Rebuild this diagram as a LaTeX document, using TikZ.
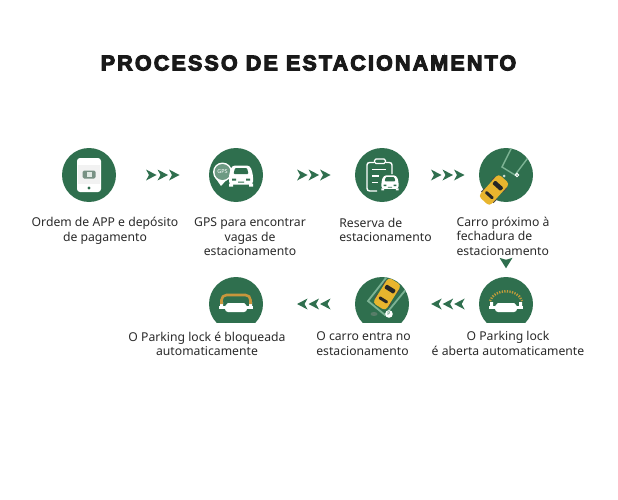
\documentclass[tikz,border=0pt]{standalone}
\usepackage{fontspec}
\setmainfont{Noto Sans}
\newfontfamily\titlefont[FakeBold=5,LetterSpace=10]{Liberation Sans Bold}
\definecolor{verde}{HTML}{2F6F4E}
\definecolor{verdec}{HTML}{7DB394}
\definecolor{amarelo}{HTML}{E8B52E}
\definecolor{laranja}{HTML}{C8963C}
\definecolor{texto}{HTML}{2A2A2A}

\begin{document}
\begin{tikzpicture}[x=1pt, y=-1pt,
  passo/.style = {circle, fill=verde, minimum size=54pt, inner sep=0pt},
  domo/.style = {circle, minimum size=54pt, inner sep=0pt},
  rotulo/.style = {text=texto, align=center, inner sep=0pt, font=\fontsize{12.2}{14.5}\selectfont},
  esquerda/.style = {rotulo, align=left},
  seta/.pic = {\foreach \i in {-11.5,0,11.5} {\fill[verde, shift={(\i,0)}] (-5,-5.5) -- (5.5,0) -- (-5,5.5) -- (-2,0) -- cycle;}},
  carrinho/.pic = {
    \fill[black!70] (-10,-8.5) rectangle (-5,8.5) (5,-8.5) rectangle (10,8.5);
    \fill[amarelo, rounded corners=3.5pt] (-15,-7.5) rectangle (15,7.5);
    \fill[black!85, rounded corners=1pt] (3.5,-5.5) rectangle (8,5.5) (-8.5,-5) rectangle (-5.5,5);
  },
  frente/.pic = {
    \fill[white, rounded corners=3pt] (-12,-1) -- (-9,-10) -- (9,-10) -- (12,-1) -- (12,9) -- (-12,9) -- cycle;
    \fill[white] (-12,8) rectangle (-8,11) (8,8) rectangle (12,11);
    \fill[verde, rounded corners=1pt] (-7.5,-1.5) -- (-6,-7.5) -- (6,-7.5) -- (7.5,-1.5) -- cycle;
    \fill[verde] (-9,3) rectangle (-5,5) (5,3) rectangle (9,5) (-3,6) rectangle (3,7);
  },
  fundo/.pic = {
    \clip (-27,-27) rectangle (27,18);
    \fill[verde] (0,0) circle (27);
  },
  telefone/.pic = {
    \fill[white, rounded corners=3pt] (-12,-17) rectangle (12,17);
    \fill[black!5] (-11,-10) rectangle (11,9);
    \fill[verde!65!black!60, rounded corners=1.5pt] (-6.5,-4.5) rectangle (6.5,3.5);
    \fill[white!85!verde] (-2.5,-3) rectangle (2.5,2);
    \fill[verde] (0,13) circle (1.6);
  },
  satelite/.pic = {
    \fill[white] (-15,11) -- (-22,1) -- (-6,1) -- cycle;
    \fill[white] (-13.5,-3) circle (9.5);
    \fill[verde!70!white] (-13.5,-3) circle (8);
    \node[text=white, inner sep=0pt, font=\fontsize{5.5}{5.5}\selectfont\bfseries] (gpstxt) at (-13.5,-3) {GPS};
    \pic at (5,0.5) {frente};
  },
  prancheta/.pic = {
    \draw[white, line width=1.4pt, rounded corners=2.5pt] (-5,16) -- (-15,16) -- (-15,-12.5) -- (10,-12.5) -- (10,-1);
    \fill[verde] (-8,-16) rectangle (4,-11);
    \draw[white, line width=1.4pt, rounded corners=1.5pt] (-7.5,-16) rectangle (3.5,-11.5);
    \draw[white, line width=1.4pt] (-10,-5.5) -- (4,-5.5) (-10,1) -- (-3,1) (-10,7.5) -- (-4,7.5);
    \pic[scale=.72] at (8,7.5) {frente};
  },
  aproxima/.pic = {
    \begin{scope}
      \clip (0,0) circle (27);
      \draw[verdec, line width=1.4pt] (7,-30) -- (-4,-8) -- (9,0) -- (24,-20);
    \end{scope}
    \fill[white!75!verde] (-2,1) circle (1.5);
    \draw[white, line width=1pt] (11,0) circle (1.7);
    \pic[rotate=48] at (-12,15) {carrinho};
  },
  cadeado/.pic = {
    \fill[white] (-17,2) rectangle (17,5);
    \fill[white] (-16,-2) rectangle (-13,3) (13,-2) rectangle (16,3);
    \fill[white, rounded corners=3pt] (-11,-1) rectangle (11,8);
    \fill[verde] (-11,-1) -- (-8.5,-1) -- (-11,2) -- cycle (11,-1) -- (8.5,-1) -- (11,2) -- cycle;
  },
  aberto/.pic = {
    \pic {fundo};
    \pic {cadeado};
    \draw[amarelo!80!black!90, line width=2.4pt, dash pattern=on 1.3pt off 1.3pt] (-16,-3) .. controls (-12,-16) and (12,-16) .. (16,-3);
  },
  dentro/.pic = {
    \pic {fundo};
    \clip (0,0) circle (27);
    \draw[verdec, line width=1.8pt] (7,-30) -- (-14,-3) -- (3,11) -- (30,-22);
    \fill[black!30!verdec] (-8,10) ellipse (3.5 and 2);
    \fill[white] (7,10) circle (3.8);
    \node[text=verde, inner sep=0pt, font=\fontsize{5}{5}\selectfont\bfseries] (ptxt) at (7,10) {P};
    \pic[rotate=58] at (5,-10) {carrinho};
  },
  fechado/.pic = {
    \pic {fundo};
    \pic {cadeado};
    \draw[laranja, line width=2.6pt, rounded corners=5pt] (-14.5,0) -- (-14.5,-9) -- (14.5,-9) -- (14.5,0);
  }]

\node[rotulo, font=\titlefont\fontsize{21.5}{24}\selectfont, text=black!90] (titulo) at (308.5,63) {PROCESSO DE ESTACIONAMENTO};

\node[passo] (app) at (89,175) {};
\node[passo] (gps) [right of=app, node distance=147pt] {};
\node[passo] (reserva) [right of=gps, node distance=146pt] {};
\node[passo] (carro) [right of=reserva, node distance=124pt] {};
\node[domo] (abre) [below of=carro, node distance=129pt] {};
\node[domo] (entra) [left of=abre, node distance=124pt] {};
\node[domo] (bloqueia) [left of=entra, node distance=146pt] {};

\pic at (app) {telefone};
\pic at (gps) {satelite};
\pic at (reserva) {prancheta};
\pic at (carro) {aproxima};
\pic at (abre) {aberto};
\pic at (entra) {dentro};
\pic at (bloqueia) {fechado};

\node[rotulo] (tapp) [below of=app, node distance=56pt, xshift=16pt] {Ordem de APP e depósito\\de pagamento};
\node[rotulo] (tgps) [below of=gps, node distance=62pt, xshift=14pt] {GPS para encontrar\\vagas de\\estacionamento};
\node[esquerda] (treserva) [below of=reserva, node distance=55pt, xshift=3.5pt] {Reserva de\\estacionamento};
\node[esquerda] (tcarro) [below of=carro, node distance=61pt, xshift=-3pt] {Carro próximo à\\fechadura de\\estacionamento};
\node[rotulo] (tabre) [below of=abre, node distance=39.5pt, xshift=2pt] {O Parking lock\\é aberta automaticamente};
\node[esquerda] (tentra) [below of=entra, node distance=39.5pt, xshift=-18.5pt] {O carro entra no\\estacionamento};
\node[rotulo] (tbloqueia) [below of=bloqueia, node distance=40pt, xshift=-29pt] {O Parking lock é bloqueada\\automaticamente};

\path (app) -- pic[pos=.5] {seta} (gps);
\path (gps) -- pic[pos=.55] {seta} (reserva);
\path (reserva) -- pic[pos=.55] {seta} (carro);
\path (abre) -- pic[pos=.44, rotate=180] {seta} (entra);
\path (entra) -- pic[pos=.445, rotate=180] {seta} (bloqueia);
\fill[verde] ([yshift=14pt]abre.north) ++(-6.5,-5) -- ++(6.5,2) -- ++(6.5,-2) -- ++(-6.5,10.5) -- cycle;

\useasboundingbox (0,0) rectangle (618,500);
\end{tikzpicture}
\end{document}
